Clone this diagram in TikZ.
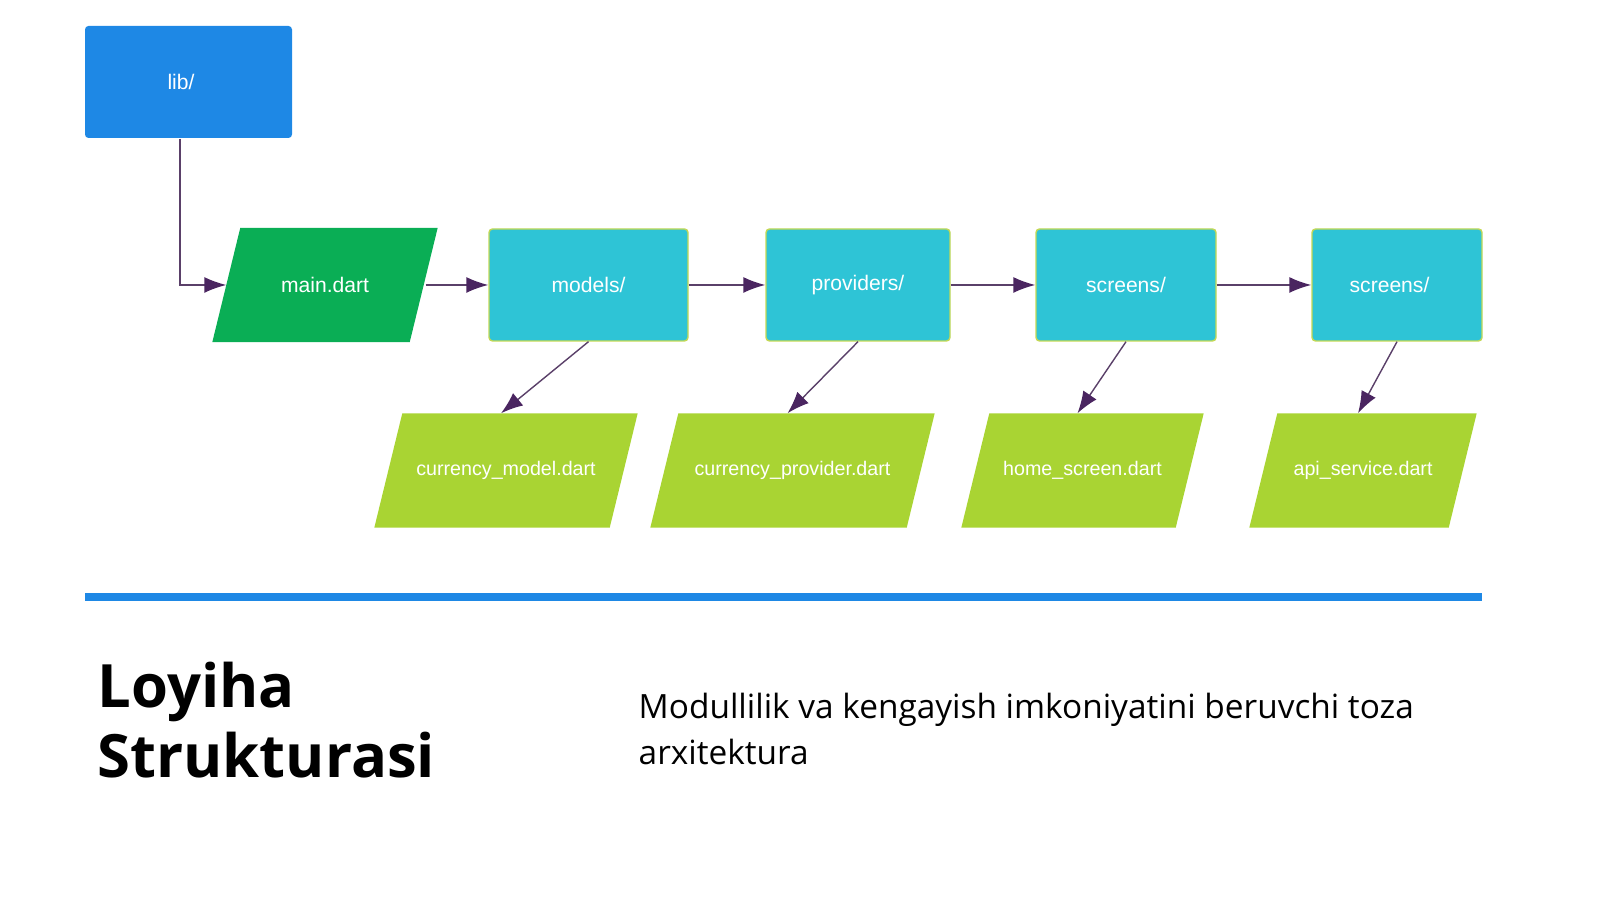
\documentclass[tikz,border=0pt]{standalone}
\usepackage{fontspec}
\setmainfont{Open Sans}[BoldFont={Open Sans Bold}]
\newfontfamily\boxfont{Liberation Sans}
\usetikzlibrary{calc,arrows.meta,backgrounds}
\definecolor{libblue}{HTML}{1E88E5}
\definecolor{maingreen}{HTML}{0AAE55}
\definecolor{dircyan}{HTML}{2EC4D6}
\definecolor{filelime}{HTML}{A9D433}
\definecolor{arrowpurple}{HTML}{4A2560}
\newcommand{\slantfill}[2]{%
  \begin{pgfonlayer}{background}
  \fill[#2] ($(#1.south west)+(-0.14,0)$) -- ($(#1.south east)+(-0.14,0)$)
    -- ($(#1.north east)+(0.14,0)$) -- ($(#1.north west)+(0.14,0)$) -- cycle;
  \end{pgfonlayer}}
\begin{document}
\begin{tikzpicture}[
  dirbox/.style={rectangle, rounded corners=1pt, fill=dircyan, draw=yellow!70!dircyan,
    minimum height=1.12cm, text=white, font=\boxfont\fontsize{6}{7}\selectfont, inner sep=0pt},
  filebox/.style={rectangle, minimum height=1.13cm,
    text=white, font=\boxfont\fontsize{5.6}{7}\selectfont, inner sep=0pt},
  link/.style={draw=arrowpurple!70!gray, -{Latex[length=2.2mm,width=1.6mm,color=arrowpurple]}},
]
\useasboundingbox (0,0) rectangle (16,8.99);

% top row
\node[rectangle, rounded corners=1pt, fill=libblue, minimum width=2.07cm, minimum height=1.12cm,
  text=white, font=\boxfont\fontsize{6}{7}\selectfont] (lib) at (1.885,8.17) {\hspace{-0.15cm}lib/};
\node[filebox, minimum width=1.96cm, font=\boxfont\fontsize{6}{7}\selectfont] (main) at (3.25,6.14) {main.dart};
\slantfill{main}{maingreen}
\node[dirbox, minimum width=1.99cm] (models) at (5.885,6.14) {models/};
\node[dirbox, minimum width=1.84cm] (providers) at (8.58,6.14) {providers/};
\node[dirbox, minimum width=1.80cm] (screens) at (11.26,6.14) {screens/};
\node[dirbox, minimum width=1.70cm] (services) at (13.97,6.14) {\hspace{-0.15cm}screens/};

% file row
\node[filebox, minimum width=2.34cm] (model) at (5.06,4.285) {currency\_model.dart};
\node[filebox, minimum width=2.55cm] (provider) at (7.925,4.285) {currency\_provider.dart};
\node[filebox, minimum width=2.13cm] (home) at (10.825,4.285) {home\_screen.dart};
\node[filebox, minimum width=1.98cm] (api) at (13.63,4.285) {api\_service.dart};
\foreach \f in {model,provider,home,api}{\slantfill{\f}{filelime}}

% connectors
\draw[link] (1.80,0 |- lib.south) |- (main.west);
\draw[link] ($(main.east)+(0.02,0)$) -- (models);
\draw[link] (models) -- (providers);
\draw[link] (providers) -- (screens);
\draw[link] (screens) -- (services);
\draw[link] (models.south) -- ([xshift=-0.05cm]model.north);
\draw[link] (providers.south) -- ([xshift=-0.05cm]provider.north);
\draw[link] (screens.south) -- ([xshift=-0.05cm]home.north);
\draw[link] (services.south) -- ([xshift=-0.05cm]api.north);

% footer
\draw[libblue, line width=0.8mm] (0.85,3.02) coordinate (rulel) -- (14.82,3.02) coordinate (ruler);
\node[anchor=north west, align=left, font=\bfseries\fontsize{17}{20}\selectfont, inner sep=0pt]
  (title) at (0.97,2.38) {Loyiha\\Strukturasi};
\node[anchor=north west, align=left, font=\fontsize{9.5}{13.3}\selectfont, inner sep=0pt]
  (subtitle) at (6.38,2.07) {Modullilik va kengayish imkoniyatini beruvchi toza\\arxitektura};
\end{tikzpicture}
\end{document}
